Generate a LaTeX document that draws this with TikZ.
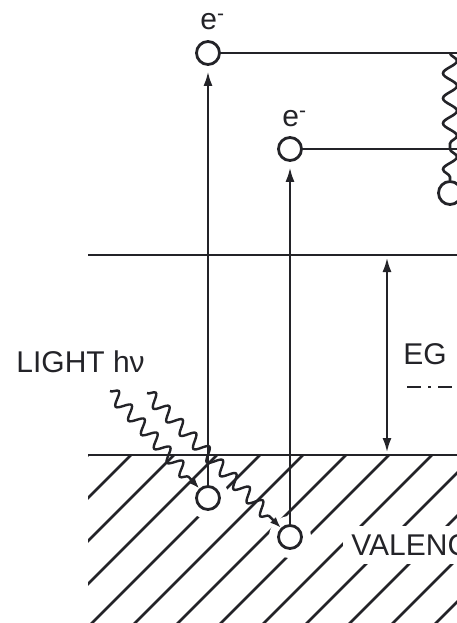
\documentclass[tikz,border=0pt]{standalone}
\usepackage{fontspec}
\setmainfont{Liberation Sans}
\usetikzlibrary{arrows.meta,decorations.pathmorphing}
\definecolor{ink}{RGB}{35,35,40}

\begin{document}
\begin{tikzpicture}[x=1pt, y=-1pt, >={Latex[length=15pt,width=9pt]}, line width=2.8pt, draw=ink, text=ink]

    % 样式
    \tikzset{
      carrier/.style={circle, draw=ink, fill=white, minimum size=23pt, inner sep=0pt},
      lbl/.style={font=\fontsize{30}{36}\selectfont, inner sep=0pt},
      hatch/.style={line width=2.6pt},
      photon/.style={decorate, decoration={snake, amplitude=6.5pt, segment length=19pt, post length=15pt},
        line width=2.4pt, -{Latex[length=11pt,width=8pt]}},
      spring/.style={decorate, decoration={snake, amplitude=7pt, segment length=25pt}, line width=2.6pt},
      dashdot/.style={line width=2.6pt, dash pattern=on 14pt off 7pt on 3pt off 7pt}
    }

    \clip (0,0) rectangle (457,623);

    % 定义能带边和载流子位置
    \coordinate (cbL) at (88,255);
    \coordinate (cbR) at (460,255);
    \coordinate (vbL) at (88,455);
    \coordinate (vbR) at (460,455);
    \coordinate (H1) at (208,498);
    \coordinate (H2) at (290,537);

    % 1. 价带阴影线
    \begin{scope}
      \clip (88,455) rectangle (460,625);
      \foreach \c in {543,586,...,1059}
        \draw[hatch] ({\c-455},455) -- ({\c-625},625);
    \end{scope}

    % 空穴和文字周围留白
    \fill[white] (H1) circle (21pt);
    \fill[white] (H2) circle (21pt);
    \node[lbl, fill=white, inner sep=8pt, anchor=west] (vb) at (342,545) {VALENCE};

    % 2. 导带边与价带边
    \draw (cbL) -- (cbR);
    \draw (vbL) -- (vbR);

    % 3. 电子与空穴
    \node[carrier] (ec1) at (208,53) {};
    \node[carrier] (ec2) at (290,149) {};
    \node[carrier] (ec3) at (450,193) {};
    \node[carrier] (hv1) at (H1) {};
    \node[carrier] (hv2) at (H2) {};
    \node[lbl, anchor=base west] (e1) at (199,30) {e\textsuperscript{-}};
    \node[lbl, anchor=base west] (e2) at (281,127) {e\textsuperscript{-}};

    % 4. 激发跃迁
    \draw[->, shorten >=5pt] (hv1) -- (ec1);
    \draw[->, shorten >=5pt] (hv2) -- (ec2);
    \draw (ec1) -- (ec1 -| cbR);
    \draw (ec2) -- (ec2 -| cbR);

    % 右侧弛豫
    \coordinate (S1) at (450,53);
    \coordinate (S2) at (450,149);
    \draw[spring] (S1) -- (S2);
    \draw[spring] (S2) -- (ec3);

    % 5. 入射光子
    \coordinate (L1) at (110,391);
    \coordinate (L2) at (147,393);
    \draw[photon] (L1) -- (hv1);
    \draw[photon] (L2) -- (hv2);
    \node[lbl, anchor=west] (light) at (15,362) {LIGHT hν};

    % 6. 禁带宽度 EG
    \coordinate (G1) at (387,257);
    \coordinate (G2) at (387,453);
    \draw[<->] (G1) -- (G2);
    \node[lbl, anchor=west] (eg) at (402,354) {EG};
    \coordinate (D1) at (407,387);
    \draw[dashdot] (D1) -- (D1 -| cbR);

\end{tikzpicture}
\end{document}
